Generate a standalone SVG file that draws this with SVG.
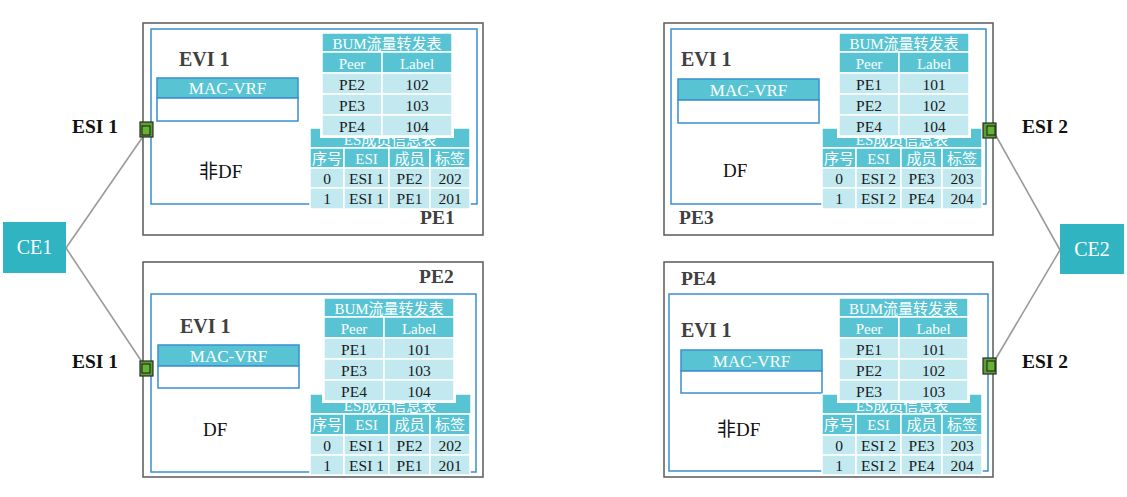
<svg xmlns="http://www.w3.org/2000/svg" width="1127" height="497" viewBox="0 0 1127 497">
<defs>
<style>
.outer{fill:#fff;stroke:#5a5a5a;stroke-width:1.5}
.inner{fill:none;stroke:#3a8fd0;stroke-width:1.5}
.hd{fill:#58c4d3;stroke:#fff;stroke-width:1.5}
.rw{fill:#c1e9ef;stroke:#fff;stroke-width:1.5}
.wb{fill:#fff;stroke:none}
.th{font-family:"Liberation Serif","Noto Sans CJK SC",serif;font-size:15px;fill:#fff;text-anchor:middle}
.td{font-family:"Liberation Serif","Noto Sans CJK SC",serif;font-size:15.5px;fill:#1a1a1a;text-anchor:middle}
.evi{font-family:"Liberation Serif",serif;font-size:20px;font-weight:bold;fill:#404040}
.pe{font-family:"Liberation Serif",serif;font-size:19.5px;font-weight:bold;fill:#404040}
.esi{font-family:"Liberation Serif",serif;font-size:19.5px;font-weight:bold;fill:#111}
.df{font-family:"Liberation Serif","Noto Sans CJK SC",serif;font-size:19px;fill:#111}
.mvh{fill:#58c4d3;stroke:#3a8fd0;stroke-width:1.5}
.mvb{fill:#fff;stroke:#3a8fd0;stroke-width:1.5}
.mvt{font-family:"Liberation Serif",serif;font-size:17px;fill:#fff;text-anchor:middle}
.ce{fill:#31b4c2}
.cet{font-family:"Liberation Serif",serif;font-size:20px;fill:#fff;text-anchor:middle}
.link{stroke:#9a9a9a;stroke-width:1.6;fill:none}
.po{fill:#5aa02e;stroke:#2a2a2a;stroke-width:1.2}
.pi{fill:#66b236;stroke:#1a1a1a;stroke-width:1}
</style>
</defs>

<g id="connectors">
<line class="link" x1="66" y1="248" x2="142" y2="138"/>
<line class="link" x1="66" y1="248" x2="142" y2="362"/>
<line class="link" x1="1060" y1="250" x2="995" y2="134"/>
<line class="link" x1="1060" y1="250" x2="995" y2="360"/>
</g>

<g id="CE1">
<rect class="ce" x="3" y="222" width="63" height="51"/>
<text class="cet" x="34.5" y="254">CE1</text>
</g>
<g id="CE2">
<rect class="ce" x="1060" y="224" width="64" height="50"/>
<text class="cet" x="1092" y="256">CE2</text>
</g>

<!-- PE1 -->
<g id="PE1">
<rect class="outer" x="143" y="23" width="340" height="212"/>
<rect class="inner" x="151" y="29" width="326" height="175"/>
<text class="evi" x="179" y="66">EVI 1</text>
<rect class="mvh" x="157" y="78" width="141" height="20"/>
<rect class="mvb" x="157" y="98" width="141" height="23"/>
<text class="mvt" x="227.5" y="93.5">MAC-VRF</text>
<text class="df" x="199" y="178">非DF</text>
<text class="pe" x="420" y="224">PE1</text>
<g transform="translate(310,128)">
<rect class="hd" x="0" y="0" width="160" height="20"/>
<text class="th" x="80" y="17">ES成员信息表</text>
<rect class="hd" x="0" y="20" width="34" height="20"/><rect class="hd" x="34" y="20" width="45" height="20"/><rect class="hd" x="79" y="20" width="41" height="20"/><rect class="hd" x="120" y="20" width="40" height="20"/>
<text class="th" x="17" y="36">序号</text><text class="th" x="56.5" y="36">ESI</text><text class="th" x="99.5" y="36">成员</text><text class="th" x="140" y="36">标签</text>
<rect class="rw" x="0" y="40" width="34" height="20"/><rect class="rw" x="34" y="40" width="45" height="20"/><rect class="rw" x="79" y="40" width="41" height="20"/><rect class="rw" x="120" y="40" width="40" height="20"/>
<text class="td" x="17" y="56">0</text><text class="td" x="56.5" y="56">ESI 1</text><text class="td" x="99.5" y="56">PE2</text><text class="td" x="140" y="56">202</text>
<rect class="rw" x="0" y="60" width="34" height="21"/><rect class="rw" x="34" y="60" width="45" height="21"/><rect class="rw" x="79" y="60" width="41" height="21"/><rect class="rw" x="120" y="60" width="40" height="21"/>
<text class="td" x="17" y="76">1</text><text class="td" x="56.5" y="76">ESI 1</text><text class="td" x="99.5" y="76">PE1</text><text class="td" x="140" y="76">201</text>
</g>
<g transform="translate(322,33)">
<rect class="wb" x="-2" y="-2" width="134" height="107"/>
<rect class="hd" x="0" y="0" width="130" height="19"/>
<text class="th" x="65" y="16">BUM流量转发表</text>
<rect class="hd" x="0" y="19" width="60" height="21"/><rect class="hd" x="60" y="19" width="70" height="21"/>
<text class="th" x="30" y="36">Peer</text><text class="th" x="95" y="36">Label</text>
<rect class="rw" x="0" y="40" width="60" height="21"/><rect class="rw" x="60" y="40" width="70" height="21"/>
<text class="td" x="30" y="57">PE2</text><text class="td" x="95" y="57">102</text>
<rect class="rw" x="0" y="61" width="60" height="21"/><rect class="rw" x="60" y="61" width="70" height="21"/>
<text class="td" x="30" y="78">PE3</text><text class="td" x="95" y="78">103</text>
<rect class="rw" x="0" y="82" width="60" height="21"/><rect class="rw" x="60" y="82" width="70" height="21"/>
<text class="td" x="30" y="99">PE4</text><text class="td" x="95" y="99">104</text>
</g>
<rect class="po" x="140" y="122" width="13" height="15"/>
<rect class="pi" x="142" y="126" width="8" height="9"/>
</g>

<!-- PE2 -->
<g id="PE2">
<rect class="outer" x="143" y="262" width="340" height="215"/>
<rect class="inner" x="151" y="294" width="325" height="178"/>
<text class="pe" x="419" y="283">PE2</text>
<text class="evi" x="180" y="333">EVI 1</text>
<rect class="mvh" x="158" y="345" width="141" height="21"/>
<rect class="mvb" x="158" y="366" width="141" height="22"/>
<text class="mvt" x="228.5" y="361.5">MAC-VRF</text>
<text class="df" x="203" y="436">DF</text>
<g transform="translate(310,394)">
<rect class="hd" x="0" y="0" width="161" height="20"/>
<text class="th" x="80" y="17">ES成员信息表</text>
<rect class="hd" x="0" y="20" width="34" height="21"/><rect class="hd" x="34" y="20" width="45" height="21"/><rect class="hd" x="79" y="20" width="41" height="21"/><rect class="hd" x="120" y="20" width="40" height="21"/>
<text class="th" x="17" y="36">序号</text><text class="th" x="56.5" y="36">ESI</text><text class="th" x="99.5" y="36">成员</text><text class="th" x="140" y="36">标签</text>
<rect class="rw" x="0" y="41" width="34" height="20"/><rect class="rw" x="34" y="41" width="45" height="20"/><rect class="rw" x="79" y="41" width="41" height="20"/><rect class="rw" x="120" y="41" width="40" height="20"/>
<text class="td" x="17" y="57">0</text><text class="td" x="56.5" y="57">ESI 1</text><text class="td" x="99.5" y="57">PE2</text><text class="td" x="140" y="57">202</text>
<rect class="rw" x="0" y="61" width="34" height="20"/><rect class="rw" x="34" y="61" width="45" height="20"/><rect class="rw" x="79" y="61" width="41" height="20"/><rect class="rw" x="120" y="61" width="40" height="20"/>
<text class="td" x="17" y="77">1</text><text class="td" x="56.5" y="77">ESI 1</text><text class="td" x="99.5" y="77">PE1</text><text class="td" x="140" y="77">201</text>
</g>
<g transform="translate(324,298)">
<rect class="wb" x="-2" y="-2" width="134" height="107"/>
<rect class="hd" x="0" y="0" width="130" height="19"/>
<text class="th" x="65" y="16">BUM流量转发表</text>
<rect class="hd" x="0" y="19" width="60" height="21"/><rect class="hd" x="60" y="19" width="70" height="21"/>
<text class="th" x="30" y="36">Peer</text><text class="th" x="95" y="36">Label</text>
<rect class="rw" x="0" y="40" width="60" height="21"/><rect class="rw" x="60" y="40" width="70" height="21"/>
<text class="td" x="30" y="57">PE1</text><text class="td" x="95" y="57">101</text>
<rect class="rw" x="0" y="61" width="60" height="21"/><rect class="rw" x="60" y="61" width="70" height="21"/>
<text class="td" x="30" y="78">PE3</text><text class="td" x="95" y="78">103</text>
<rect class="rw" x="0" y="82" width="60" height="21"/><rect class="rw" x="60" y="82" width="70" height="21"/>
<text class="td" x="30" y="99">PE4</text><text class="td" x="95" y="99">104</text>
</g>
<rect class="po" x="140" y="361" width="13" height="15"/>
<rect class="pi" x="142" y="364" width="8" height="9"/>
</g>

<!-- PE3 -->
<g id="PE3">
<rect class="outer" x="664" y="23" width="329" height="212"/>
<rect class="inner" x="671" y="29" width="315" height="175"/>
<text class="evi" x="681" y="66">EVI 1</text>
<rect class="mvh" x="678" y="79" width="141" height="21"/>
<rect class="mvb" x="678" y="100" width="141" height="23"/>
<text class="mvt" x="748.5" y="95.5">MAC-VRF</text>
<text class="df" x="723" y="177">DF</text>
<text class="pe" x="679" y="224">PE3</text>
<g transform="translate(822,128)">
<rect class="hd" x="0" y="0" width="160" height="20"/>
<text class="th" x="80" y="17">ES成员信息表</text>
<rect class="hd" x="0" y="20" width="34" height="20"/><rect class="hd" x="34" y="20" width="45" height="20"/><rect class="hd" x="79" y="20" width="41" height="20"/><rect class="hd" x="120" y="20" width="40" height="20"/>
<text class="th" x="17" y="36">序号</text><text class="th" x="56.5" y="36">ESI</text><text class="th" x="99.5" y="36">成员</text><text class="th" x="140" y="36">标签</text>
<rect class="rw" x="0" y="40" width="34" height="20"/><rect class="rw" x="34" y="40" width="45" height="20"/><rect class="rw" x="79" y="40" width="41" height="20"/><rect class="rw" x="120" y="40" width="40" height="20"/>
<text class="td" x="17" y="56">0</text><text class="td" x="56.5" y="56">ESI 2</text><text class="td" x="99.5" y="56">PE3</text><text class="td" x="140" y="56">203</text>
<rect class="rw" x="0" y="60" width="34" height="21"/><rect class="rw" x="34" y="60" width="45" height="21"/><rect class="rw" x="79" y="60" width="41" height="21"/><rect class="rw" x="120" y="60" width="40" height="21"/>
<text class="td" x="17" y="76">1</text><text class="td" x="56.5" y="76">ESI 2</text><text class="td" x="99.5" y="76">PE4</text><text class="td" x="140" y="76">204</text>
</g>
<g transform="translate(839,33)">
<rect class="wb" x="-2" y="-2" width="134" height="107"/>
<rect class="hd" x="0" y="0" width="130" height="19"/>
<text class="th" x="65" y="16">BUM流量转发表</text>
<rect class="hd" x="0" y="19" width="60" height="21"/><rect class="hd" x="60" y="19" width="70" height="21"/>
<text class="th" x="30" y="36">Peer</text><text class="th" x="95" y="36">Label</text>
<rect class="rw" x="0" y="40" width="60" height="21"/><rect class="rw" x="60" y="40" width="70" height="21"/>
<text class="td" x="30" y="57">PE1</text><text class="td" x="95" y="57">101</text>
<rect class="rw" x="0" y="61" width="60" height="21"/><rect class="rw" x="60" y="61" width="70" height="21"/>
<text class="td" x="30" y="78">PE2</text><text class="td" x="95" y="78">102</text>
<rect class="rw" x="0" y="82" width="60" height="21"/><rect class="rw" x="60" y="82" width="70" height="21"/>
<text class="td" x="30" y="99">PE4</text><text class="td" x="95" y="99">104</text>
</g>
<rect class="po" x="983" y="123" width="13" height="15"/>
<rect class="pi" x="987" y="126" width="8" height="9"/>
</g>

<!-- PE4 -->
<g id="PE4">
<rect class="outer" x="664" y="262" width="329" height="215"/>
<rect class="inner" x="669" y="294" width="319" height="177"/>
<text class="pe" x="681" y="285">PE4</text>
<text class="evi" x="681" y="337">EVI 1</text>
<rect class="mvh" x="681" y="350" width="141" height="21"/>
<rect class="mvb" x="681" y="371" width="141" height="22"/>
<text class="mvt" x="751.5" y="366.5">MAC-VRF</text>
<text class="df" x="717" y="436">非DF</text>
<g transform="translate(822,394)">
<rect class="hd" x="0" y="0" width="160" height="20"/>
<text class="th" x="80" y="17">ES成员信息表</text>
<rect class="hd" x="0" y="20" width="34" height="21"/><rect class="hd" x="34" y="20" width="45" height="21"/><rect class="hd" x="79" y="20" width="41" height="21"/><rect class="hd" x="120" y="20" width="40" height="21"/>
<text class="th" x="17" y="36">序号</text><text class="th" x="56.5" y="36">ESI</text><text class="th" x="99.5" y="36">成员</text><text class="th" x="140" y="36">标签</text>
<rect class="rw" x="0" y="41" width="34" height="20"/><rect class="rw" x="34" y="41" width="45" height="20"/><rect class="rw" x="79" y="41" width="41" height="20"/><rect class="rw" x="120" y="41" width="40" height="20"/>
<text class="td" x="17" y="57">0</text><text class="td" x="56.5" y="57">ESI 2</text><text class="td" x="99.5" y="57">PE3</text><text class="td" x="140" y="57">203</text>
<rect class="rw" x="0" y="61" width="34" height="20"/><rect class="rw" x="34" y="61" width="45" height="20"/><rect class="rw" x="79" y="61" width="41" height="20"/><rect class="rw" x="120" y="61" width="40" height="20"/>
<text class="td" x="17" y="77">1</text><text class="td" x="56.5" y="77">ESI 2</text><text class="td" x="99.5" y="77">PE4</text><text class="td" x="140" y="77">204</text>
</g>
<g transform="translate(839,298)">
<rect class="wb" x="-2" y="-2" width="133" height="107"/>
<rect class="hd" x="0" y="0" width="129" height="19"/>
<text class="th" x="64.5" y="16">BUM流量转发表</text>
<rect class="hd" x="0" y="19" width="60" height="21"/><rect class="hd" x="60" y="19" width="69" height="21"/>
<text class="th" x="30" y="36">Peer</text><text class="th" x="94.5" y="36">Label</text>
<rect class="rw" x="0" y="40" width="60" height="21"/><rect class="rw" x="60" y="40" width="69" height="21"/>
<text class="td" x="30" y="57">PE1</text><text class="td" x="94.5" y="57">101</text>
<rect class="rw" x="0" y="61" width="60" height="21"/><rect class="rw" x="60" y="61" width="69" height="21"/>
<text class="td" x="30" y="78">PE2</text><text class="td" x="94.5" y="78">102</text>
<rect class="rw" x="0" y="82" width="60" height="21"/><rect class="rw" x="60" y="82" width="69" height="21"/>
<text class="td" x="30" y="99">PE3</text><text class="td" x="94.5" y="99">103</text>
</g>
<rect class="po" x="983" y="358" width="13" height="16"/>
<rect class="pi" x="987" y="361" width="8" height="10"/>
</g>

<g id="labels">
<text class="esi" x="72" y="133">ESI 1</text>
<text class="esi" x="72" y="368">ESI 1</text>
<text class="esi" x="1022" y="133">ESI 2</text>
<text class="esi" x="1022" y="368">ESI 2</text>
</g>
</svg>
